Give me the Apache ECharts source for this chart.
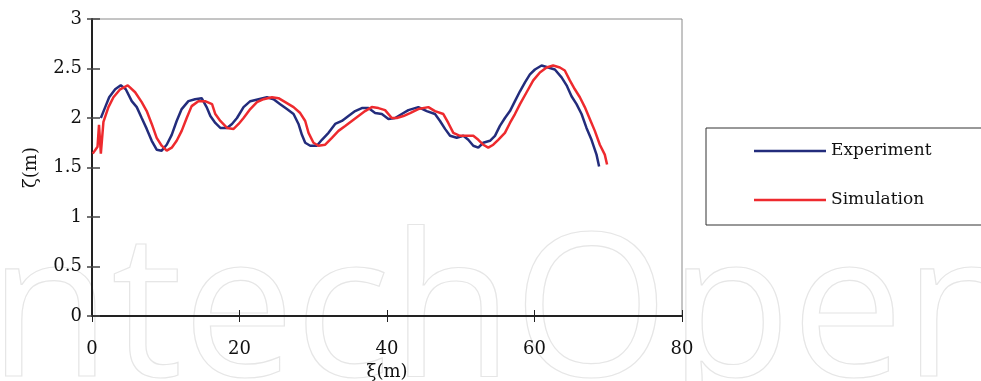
<!DOCTYPE html>
<html><head><meta charset="utf-8">
<script src="https://cdn.jsdelivr.net/npm/echarts@6/dist/echarts.min.js"></script>
<style>html,body{margin:0;padding:0;background:#fff}#c{width:981px;height:381px}</style>
</head><body><div id="c"></div>
<script>
const xTicks = [0, 20, 40, 60, 80];
const yTicks = [0, 0.5, 1, 1.5, 2, 2.5, 3];
const seriesNames = ['Experiment', 'Simulation'];
const experimentX = [1.2,1.33,1.79,2.33,3.14,3.90,4.58,5.39,6.07,6.74,7.42,8.10,8.77,9.45,10.13,10.81,11.48,12.16,13.07,13.97,14.87,15.54,16.05,16.72,17.40,18.31,18.98,19.66,20.55,21.46,22.59,23.72,24.62,25.52,26.43,27.33,28.00,28.46,28.91,29.59,30.49,31.17,32.07,32.97,33.88,34.77,35.68,36.59,37.48,38.39,39.30,40.19,41.10,42.00,42.90,44.25,45.39,46.51,47.19,47.87,48.55,49.45,50.35,51.02,51.70,52.38,53.05,53.96,54.64,55.31,55.99,56.67,57.35,58.03,58.71,59.38,60.06,60.96,61.86,62.76,63.67,64.35,65.02,65.70,66.38,67.05,67.73,68.41,68.76];
const experimentY = [2.00,2.01,2.11,2.21,2.29,2.33,2.29,2.17,2.11,2.00,1.89,1.77,1.68,1.67,1.73,1.83,1.97,2.09,2.17,2.19,2.20,2.11,2.02,1.95,1.90,1.90,1.94,2.00,2.11,2.17,2.19,2.21,2.19,2.14,2.09,2.04,1.94,1.83,1.75,1.72,1.72,1.78,1.85,1.94,1.97,2.02,2.07,2.10,2.10,2.05,2.04,1.99,2.00,2.04,2.08,2.11,2.07,2.04,1.97,1.89,1.82,1.80,1.82,1.78,1.72,1.70,1.75,1.77,1.82,1.92,2.00,2.07,2.17,2.27,2.36,2.44,2.49,2.53,2.51,2.49,2.41,2.33,2.22,2.14,2.04,1.90,1.78,1.63,1.51];
const simulationX = [0.10,0.75,0.90,0.95,1.10,1.20,1.40,1.55,1.79,2.23,2.91,3.82,4.85,5.85,6.74,7.42,8.10,8.77,9.45,10.13,10.81,11.48,12.16,12.84,13.51,14.42,15.33,16.28,16.72,17.40,18.31,19.20,19.88,20.55,21.46,22.37,23.26,24.40,25.29,26.20,27.33,28.23,28.91,29.36,30.03,30.71,30.94,31.62,32.53,33.42,34.33,35.23,36.13,37.03,37.94,38.84,39.74,40.65,41.33,42.22,43.13,44.25,45.61,46.51,47.64,48.31,48.99,49.90,50.80,51.70,52.38,53.05,53.73,54.41,55.08,55.99,56.67,57.35,58.03,58.93,59.83,60.73,61.64,62.53,63.44,64.11,64.79,65.47,66.15,66.82,67.50,68.18,68.86,69.53,69.84];
const simulationY = [1.64,1.71,1.72,1.93,1.94,1.64,1.64,1.96,1.98,2.11,2.21,2.29,2.33,2.26,2.16,2.07,1.94,1.80,1.72,1.67,1.70,1.77,1.87,2.00,2.12,2.17,2.17,2.14,2.04,1.97,1.90,1.89,1.94,2.00,2.09,2.16,2.19,2.21,2.20,2.16,2.11,2.05,1.97,1.85,1.75,1.72,1.70,1.73,1.80,1.87,1.92,1.97,2.02,2.07,2.11,2.10,2.08,2.00,2.00,2.02,2.05,2.09,2.11,2.07,2.04,1.95,1.85,1.82,1.82,1.82,1.78,1.73,1.70,1.73,1.78,1.85,1.95,2.04,2.14,2.26,2.38,2.46,2.51,2.53,2.51,2.48,2.38,2.29,2.21,2.11,1.99,1.87,1.73,1.63,1.53];

const zip = (xs, ys) => xs.map((x, i) => [x, ys[i]]);
const serif = '"DejaVu Serif", "Liberation Serif", serif';
const chart = echarts.init(document.getElementById('c'), null, {renderer: 'canvas'});
const baseX = {type: 'value', min: xTicks[0], max: xTicks[xTicks.length - 1], interval: xTicks[1] - xTicks[0]};
const baseY = {type: 'value', min: yTicks[0], max: yTicks[yTicks.length - 1], interval: yTicks[1] - yTicks[0]};
chart.setOption({
  animation: false,
  backgroundColor: '#fff',
  graphic: [{
    type: 'text', left: -12, top: 218, z: -10, silent: true,
    style: {text: 'ntechOpen', font: '400 200px "Open Sans", sans-serif', fill: 'rgba(0,0,0,0)', stroke: '#e6e6e6', lineWidth: 1.2}
  }],
  grid: {left: 92, top: 19, right: 299, bottom: 65, outerBoundsMode: 'none', containLabel: false,
         show: true, borderColor: '#8a8a8a', borderWidth: 1, backgroundColor: 'transparent'},
  legend: {
    orient: 'vertical', left: 706, top: 128,
    padding: [13, 300, 15, 48], itemGap: 29,
    borderColor: '#333', borderWidth: 1,
    icon: 'rect', itemWidth: 72, itemHeight: 2.5, itemTextGap: 3,
    textStyle: {fontFamily: serif, fontSize: 17, color: '#111', lineHeight: 20},
    data: seriesNames
  },
  xAxis: [
    Object.assign({}, baseX, {
      position: 'bottom', name: 'ξ(m)', nameLocation: 'middle', nameGap: 33,
      nameTextStyle: {fontFamily: serif, fontSize: 18, color: '#111'},
      axisLine: {show: true, onZero: false, lineStyle: {color: '#222', width: 2}},
      axisTick: {show: true, length: 6, lineStyle: {color: '#222', width: 1}},
      axisLabel: {fontFamily: serif, fontSize: 18, color: '#111', margin: 24},
      splitLine: {show: false}
    }),
    Object.assign({}, baseX, {
      position: 'bottom', axisLine: {show: false}, axisLabel: {show: false},
      axisTick: {show: true, inside: true, length: 6, lineStyle: {color: '#222', width: 1}},
      splitLine: {show: false}
    })
  ],
  yAxis: [
    Object.assign({}, baseY, {
      position: 'left', name: 'ζ(m)', nameLocation: 'middle', nameGap: 52, nameRotate: 90,
      nameTextStyle: {fontFamily: serif, fontSize: 18, color: '#111'},
      axisLine: {show: true, onZero: false, lineStyle: {color: '#222', width: 2}},
      axisTick: {show: true, length: 5, lineStyle: {color: '#444', width: 1.5}},
      axisLabel: {fontFamily: serif, fontSize: 18, color: '#111', margin: 10},
      splitLine: {show: false}
    }),
    Object.assign({}, baseY, {
      position: 'left', axisLine: {show: false}, axisLabel: {show: false},
      axisTick: {show: true, inside: true, length: 8, lineStyle: {color: '#444', width: 1.5}},
      splitLine: {show: false}
    })
  ],
  series: [
    {name: seriesNames[0], type: 'line', xAxisIndex: 0, yAxisIndex: 0, showSymbol: false, symbol: 'none',
     itemStyle: {color: '#232c7c'}, lineStyle: {color: '#232c7c', width: 2.5}, data: zip(experimentX, experimentY)},
    {name: seriesNames[1], type: 'line', xAxisIndex: 0, yAxisIndex: 0, showSymbol: false, symbol: 'none',
     itemStyle: {color: '#ee2a2e'}, lineStyle: {color: '#ee2a2e', width: 2.5}, data: zip(simulationX, simulationY)}
  ]
});
</script></body></html>
